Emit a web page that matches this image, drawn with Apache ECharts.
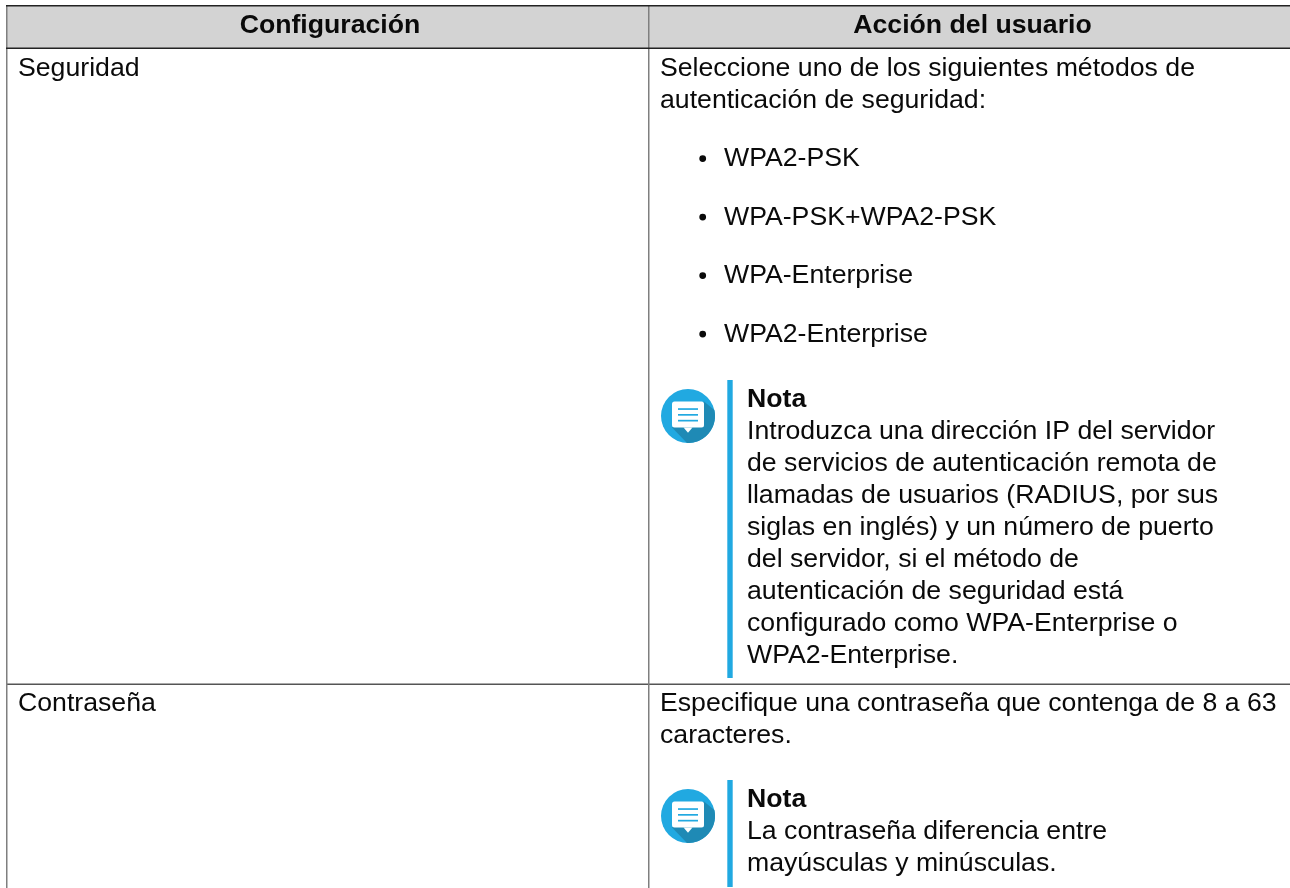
<!DOCTYPE html>
<html>
<head>
<meta charset="utf-8">
<style>
  html, body { margin: 0; padding: 0; background: #fff; }
  #main { width: 1290px; height: 888px; }
</style>
<script src="https://cdn.jsdelivr.net/npm/echarts@6/dist/echarts.min.js"></script>
</head>
<body>
<div id="main"></div>
<script>
// table text
const headers = ['Configuración', 'Acción del usuario']
const rowLabels = ['Seguridad', 'Contraseña']
const securityIntro = ['Seleccione uno de los siguientes métodos de', 'autenticación de seguridad:']
const securityMethods = ['WPA2-PSK', 'WPA-PSK+WPA2-PSK', 'WPA-Enterprise', 'WPA2-Enterprise']
const noteTitle = 'Nota'
const securityNote = [
  'Introduzca una dirección IP del servidor',
  'de servicios de autenticación remota de',
  'llamadas de usuarios (RADIUS, por sus',
  'siglas en inglés) y un número de puerto',
  'del servidor, si el método de',
  'autenticación de seguridad está',
  'configurado como WPA-Enterprise o',
  'WPA2-Enterprise.'
]
const passwordIntro = ['Especifique una contraseña que contenga de 8 a 63', 'caracteres.']
const passwordNote = ['La contraseña diferencia entre', 'mayúsculas y minúsculas.']

const FONT = '"Liberation Sans", Arial, sans-serif'
const FONT_SIZE = 26.67
const LINE = 32
const BLUE = '#21a9e1'
// distance from em-box middle down to the baseline for Liberation Sans
const BASELINE_SHIFT = 0.3465 * FONT_SIZE

// y is the text baseline
const text = (str, x, y, bold, align) => ({
  type: 'text',
  style: {
    text: str, x, y: y - BASELINE_SHIFT,
    font: `${bold ? 'bold ' : ''}${FONT_SIZE}px ${FONT}`,
    fill: '#0a0a0a',
    align: align || 'left',
    verticalAlign: 'middle'
  }
})
const rect = (x, y, width, height, fill) => ({ type: 'rect', shape: { x, y, width, height }, style: { fill } })
const block = (lines, x, y) => lines.map((l, i) => text(l, x, y + i * LINE))

// shadow wedge of the icon, bounded by the disc edge
const shadowPoints = (cx, cy, r) => {
  const pts = [[cx + 16, cy - 14.5]]
  const from = Math.atan2(-6, 26), to = Math.atan2(27, -1)
  for (let i = 0; i <= 24; i++) {
    const a = from + (to - from) * i / 24
    pts.push([cx + r * Math.cos(a), cy + r * Math.sin(a)])
  }
  pts.push([cx - 16, cy + 11.5])
  return pts
}

// note icon: blue disc, long shadow, white speech bubble
const noteIcon = (cx, cy) => ({
  type: 'group',
  children: [
    { type: 'circle', shape: { cx, cy, r: 27 }, style: { fill: BLUE } },
    { type: 'polygon', shape: { points: shadowPoints(cx, cy, 27) }, style: { fill: '#1f8ab5' } },
    { type: 'rect', shape: { x: cx - 16, y: cy - 14.5, width: 32, height: 26, r: 2.5 }, style: { fill: '#fff' } },
    { type: 'polygon', shape: { points: [[cx - 4.5, cy + 11.5], [cx + 4.5, cy + 11.5], [cx, cy + 16.7]] }, style: { fill: '#fff' } },
    ...[-7.8, -2, 3.8].map(d => rect(cx - 10, cy + d, 20, 1.7, BLUE))
  ]
})

const tableLeft = 6, midX = 649, tableRight = 1290, tableTop = 5, headBottom = 48, rowLine = 684, tableBottom = 888

const elements = [
  rect(tableLeft, tableTop, tableRight - tableLeft, headBottom - tableTop, '#d3d3d3'),
  rect(tableLeft, rowLine - 0.5, tableRight - tableLeft, 1.5, '#555'),
  rect(tableLeft, tableTop, 1.5, tableBottom - tableTop, '#7f7f7f'),
  rect(midX - 1, tableTop, 1.5, tableBottom - tableTop, '#7f7f7f'),
  rect(tableLeft, tableTop, tableRight - tableLeft, 1.5, '#222'),
  rect(tableLeft, headBottom - 0.5, tableRight - tableLeft, 1.5, '#222'),
  text(headers[0], 330, 35, true, 'center'),
  text(headers[1], 972.5, 35, true, 'center'),
  text(rowLabels[0], 18, 77.5),
  text(rowLabels[1], 18, 712.7),
  ...block(securityIntro, 660, 77.7),
  ...securityMethods.flatMap((m, i) => [
    { type: 'circle', shape: { cx: 702.7, cy: 158.6 + i * 58.5, r: 3.4 }, style: { fill: '#0a0a0a' } },
    text(m, 724, 168.3 + i * 58.5)
  ]),
  noteIcon(688, 416),
  rect(727.3, 380, 5.4, 298, BLUE),
  text(noteTitle, 747, 409, true),
  ...block(securityNote, 747, 441),
  ...block(passwordIntro, 660, 712.7),
  noteIcon(688, 816),
  rect(727.3, 780, 5.4, 107, BLUE),
  text(noteTitle, 747, 809, true),
  ...block(passwordNote, 747, 841)
]

const chart = echarts.init(document.getElementById('main'), null, { renderer: 'canvas' })
chart.setOption({ animation: false, graphic: { elements } })
</script>
</body>
</html>
